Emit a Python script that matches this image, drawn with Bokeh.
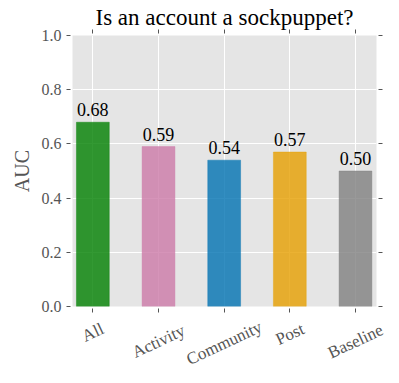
import math
from bokeh.plotting import figure
from bokeh.models import (ColumnDataSource, LabelSet, Range1d, LinearAxis,
                          FixedTicker, PrintfTickFormatter, CustomLabelingPolicy)
from bokeh.embed import file_html
from bokeh.resources import INLINE

# ---- data ----
categories = ["All", "Activity", "Community", "Post", "Baseline"]
auc = [0.68, 0.59, 0.54, 0.57, 0.50]
bar_colors = ["#008000", "#CC79A7", "#0072B2", "#E69F00", "#808080"]
y_ticks = [0.0, 0.2, 0.4, 0.6, 0.8, 1.0]
title_text = "Is an account a sockpuppet?"
y_label = "AUC"

# ---- style / layout ----
FONT = "Liberation Serif"
GRAY = "#555555"
ANGLE = math.radians(25)
W = 399
TOP_H = 314
BOT_H = 383 - TOP_H
B_LEFT, B_RIGHT, B_TOP, B_BOTTOM = 72, 23, 35, 8
X0, X1 = -0.31, 4.32

x_idx = list(range(len(categories)))
# centre of each rotated label below the strip top (label tops aligned)
lab_y = [-(7 + 0.5 * (12 * math.cos(ANGLE) + len(c) * 8.5 * math.sin(ANGLE))) for c in categories]

src = ColumnDataSource(dict(
    x=x_idx, cat=categories, auc=auc, color=bar_colors,
    value_text=[f"{v:.2f}" for v in auc],
    lab_y=lab_y,
))

x_range = Range1d(X0, X1)

p = figure(width=W, height=TOP_H, x_range=x_range, y_range=Range1d(0, 1),
           output_backend="svg", toolbar_location=None,
           min_border_left=B_LEFT, min_border_right=B_RIGHT,
           min_border_top=B_TOP, min_border_bottom=B_BOTTOM)

p.background_fill_color = "#e5e5e5"
p.border_fill_color = "white"
p.outline_line_color = None

p.title.text = title_text
p.title.text_font = FONT
p.title.text_font_size = "23px"
p.title.text_font_style = "normal"
p.title.text_color = "black"
p.title.align = "center"
p.title.standoff = 0

p.grid.grid_line_color = "white"
p.grid.grid_line_width = 1
p.ygrid.ticker = FixedTicker(ticks=y_ticks)
p.xgrid.ticker = FixedTicker(ticks=x_idx)

p.vbar(x="x", top="auc", width=0.5, source=src, fill_color="color",
       fill_alpha=0.8, line_color="color", line_alpha=0.8, line_width=0.5)

hide_labels = CustomLabelingPolicy(code="return new Set()")

def style_axis(ax, show_labels):
    ax.axis_line_color = None
    ax.major_tick_line_color = GRAY
    ax.major_tick_line_width = 1
    ax.major_tick_in = -2
    ax.major_tick_out = 6
    ax.minor_tick_line_color = None
    ax.major_label_text_font = FONT
    ax.major_label_text_color = GRAY
    if show_labels:
        ax.major_label_text_font_size = "16px"
        ax.major_label_standoff = 5
    else:
        ax.major_label_text_font_size = "0px"
        ax.major_label_standoff = 0
        ax.major_label_policy = hide_labels

# left axis
yl = p.yaxis[0]
yl.ticker = FixedTicker(ticks=y_ticks)
yl.formatter = PrintfTickFormatter(format="%.1f")
style_axis(yl, True)
yl.axis_label = y_label
yl.axis_label_text_font = FONT
yl.axis_label_text_font_size = "20px"
yl.axis_label_text_font_style = "normal"
yl.axis_label_text_color = GRAY
yl.axis_label_standoff = 6

# bottom axis: ticks only
xb = p.xaxis[0]
xb.ticker = FixedTicker(ticks=x_idx)
style_axis(xb, False)

# right axis: ticks only
yr = LinearAxis(ticker=FixedTicker(ticks=y_ticks))
style_axis(yr, False)
p.add_layout(yr, "right")

# top axis: ticks only
xt = LinearAxis(ticker=FixedTicker(ticks=x_idx))
style_axis(xt, False)
p.add_layout(xt, "above")

# value labels
p.add_layout(LabelSet(x="x", y="auc", text="value_text", source=src,
                      y_offset=6, text_align="center", text_baseline="alphabetic",
                      text_font=FONT, text_font_size="18px", text_color="black"))

# strip below the plot holding the rotated category labels (same x scale, full width)
scale = (W - B_LEFT - B_RIGHT) / (X1 - X0)
x_range2 = Range1d(X0 - B_LEFT / scale, X1 + B_RIGHT / scale)
p2 = figure(width=W, height=BOT_H, x_range=x_range2, y_range=Range1d(-BOT_H, 0),
            output_backend="svg", toolbar_location=None,
            x_axis_location=None, y_axis_location=None,
            min_border_left=0, min_border_right=0, min_border_top=0, min_border_bottom=0)
p2.outline_line_color = None
p2.grid.visible = False
p2.background_fill_color = "white"
p2.border_fill_color = "white"
p2.text(x="x", y="lab_y", text="cat", source=src, angle=ANGLE,
        text_align="center", text_baseline="middle",
        text_font={"value": FONT}, text_font_size={"value": "17px"}, text_color=GRAY)

open("out.html", "w").write(file_html([p, p2], INLINE))
